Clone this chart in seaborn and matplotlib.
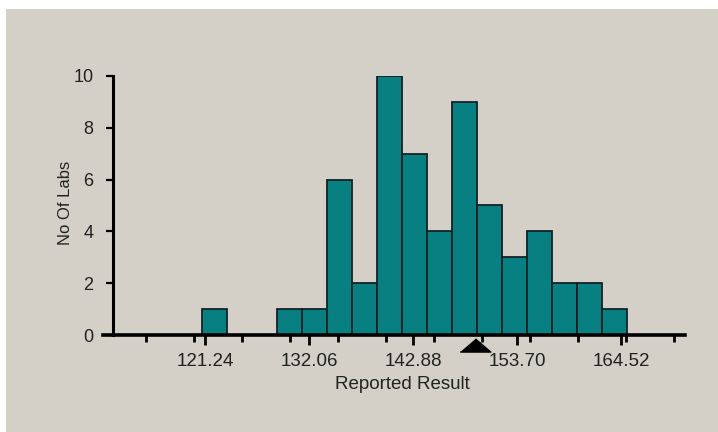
import numpy as np
import pandas as pd
import matplotlib
matplotlib.use("Agg")
import matplotlib.pyplot as plt
import seaborn as sns
from matplotlib.patches import Rectangle

# Histogram of reported results (counts)
bin_start = 120.85
bin_width = 2.605
lab_counts = [1, 0, 0, 1, 1, 6, 2, 10, 7, 4, 9, 5, 3, 4, 2, 2, 1]
label_ticks = [121.24, 132.06, 142.88, 153.70, 164.52]
minor_ticks = [115, 120, 125, 130, 135, 140, 145, 150, 155, 160, 165, 170]
y_ticks = [0, 2, 4, 6, 8, 10]
assigned_value = 149.3

BG = "#d4d0c8"
BAR = "#087f80"

sns.set_style("ticks")
plt.rcParams['font.family'] = ['Liberation Sans', 'DejaVu Sans']

edges = bin_start + bin_width * np.arange(len(lab_counts) + 1)
df = pd.DataFrame({"result": (edges[:-1] + edges[1:]) / 2, "labs": lab_counts})

fig = plt.figure(figsize=(7.18, 4.32), dpi=100)
fig.patch.set_facecolor("white")
fig.patches.append(Rectangle((6 / 718, 0), 1, 1 - 9 / 432, transform=fig.transFigure,
                             facecolor=BG, edgecolor="none", zorder=-10))

ax = fig.add_axes([103 / 718, 97 / 432, 582 / 718, 259 / 432])
ax.set_facecolor("none")

sns.histplot(data=df, x="result", weights="labs", bins=list(edges), ax=ax,
             color=BAR, alpha=1, edgecolor="#102226", linewidth=1.3)

# assigned value marker under the axis
ax.plot([assigned_value], [-0.37], marker=[(-1, -0.43), (1, -0.43), (0, 0.43)],
        ms=22, color="black", clip_on=False, zorder=5)

ax.set_xlim(110.57, 171.19)
ax.set_ylim(0, 10)

sns.despine(ax=ax)
ax.spines["left"].set_position(("data", 111.6))
ax.spines["left"].set_linewidth(2.2)
ax.spines["bottom"].set_linewidth(2.6)
ax.spines["left"].set_color("black")
ax.spines["bottom"].set_color("black")

ax.set_xticks(label_ticks)
ax.set_xticklabels([f"{t:.2f}" for t in label_ticks])
ax.set_xticks(minor_ticks, minor=True)
ax.set_yticks(y_ticks)

ax.tick_params(axis="x", which="major", length=7.2, width=2, color="black",
               pad=5.4, labelsize=13.5, labelcolor="#222222")
ax.tick_params(axis="x", which="minor", length=5, width=2, color="black")
ax.tick_params(axis="y", which="major", length=5, width=1.6, color="black",
               pad=9, labelsize=13, labelcolor="#222222")

ax.set_xlabel("Reported Result", fontsize=13.5, color="#222222")
ax.set_ylabel("No Of Labs", fontsize=12, color="#222222")
ax.xaxis.set_label_coords(0.5146, -0.158)
ax.yaxis.set_label_coords(-0.052, 0.51)

plt.savefig("out.png", dpi=100)
plt.close()
